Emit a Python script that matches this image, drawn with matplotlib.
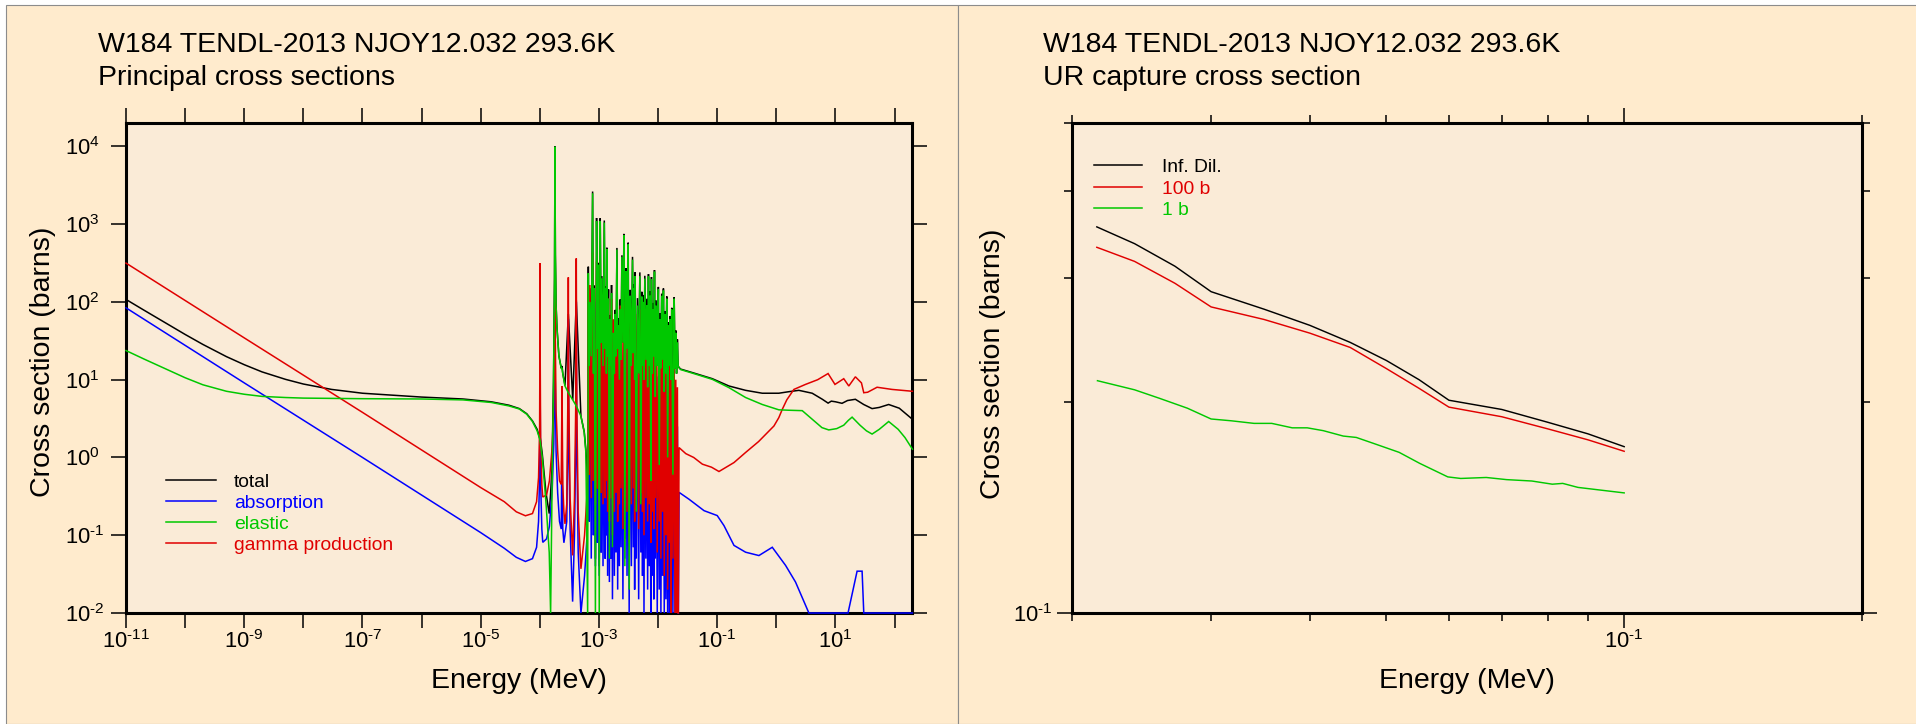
import numpy as np
import matplotlib
matplotlib.use("Agg")
import matplotlib.pyplot as plt
from matplotlib.patches import Rectangle
from matplotlib.lines import Line2D
from matplotlib.ticker import FixedLocator, FixedFormatter, NullFormatter

plt.rcParams['font.family'] = ['Liberation Sans', 'DejaVu Sans']
plt.rcParams['mathtext.fontset'] = 'custom'
plt.rcParams['mathtext.rm'] = 'Liberation Sans'
plt.rcParams['mathtext.it'] = 'Liberation Sans:italic'
plt.rcParams['mathtext.bf'] = 'Liberation Sans:bold'

# ------------------------------------------------------------------ text
TITLE = "W184 TENDL-2013 NJOY12.032 293.6K"
SUB_L = "Principal cross sections"
SUB_R = "UR capture cross section"
XLABEL = "Energy (MeV)"
YLABEL = "Cross section (barns)"
NAMES_L = ["total", "absorption", "elastic", "gamma production"]
NAMES_R = ["Inf. Dil.", "100 b", "1 b"]

# ------------------------------------------------------------------ left panel data
# smooth low-energy part + isolated resonances (E in MeV, sigma in barns)
TOT_E = [1e-11, 2e-11, 5e-11, 1e-10, 2e-10, 5e-10, 1e-9, 2e-9, 5e-9, 1e-8,
         3e-8, 1e-7, 1e-6, 5e-6,
         1.5e-5, 3e-5, 4.5e-5, 6e-5, 7.5e-5, 9e-5, 1.0e-4, 1.007e-4, 1.014e-4, 1.1e-4,
         1.27e-4, 1.44e-4, 1.52e-4, 1.6e-4, 1.7e-4, 1.77e-4, 1.80e-4, 1.83e-4, 1.88e-4, 1.95e-4,
         2.1e-4, 2.3e-4, 2.37e-4, 2.44e-4, 2.66e-4, 3.03e-4, 3.6e-4, 4.13e-4, 4.95e-4, 5.63e-4,
         6.0e-4, 6.43e-4, 6.55e-4, 6.6e-4, 6.7e-4]
TOT_V = [107.7, 78.6, 52.1, 38.2, 28.4, 19.8, 15.6, 12.6, 10.1, 8.8,
         7.5, 6.7, 5.98, 5.65,
         5.2, 4.7, 4.25, 3.65, 2.95, 2.3, 1.75, 100, 1.8, 1.1,
         0.35, 0.19, 0.35, 0.7, 9.5, 210, 10000, 410, 91, 46,
         20.2, 14.1, 15, 12.1, 8.4, 70, 5.5, 105, 3.4, 2.14,
         1.26, 0.5, 10.5, 284, 20.4]

ISO_E = [1e-11, 1e-9, 1e-7, 1e-5, 2.5e-5, 4e-5, 5.7e-5, 7.5e-5, 8.8e-5, 9.5e-5,
         9.9e-5, 1.0e-4, 1.007e-4, 1.014e-4, 1.03e-4, 1.08e-4, 1.12e-4, 1.3e-4, 1.45e-4, 1.62e-4,
         1.72e-4, 1.78e-4, 1.80e-4, 1.82e-4, 1.88e-4, 2.0e-4, 2.15e-4, 2.3e-4, 2.37e-4, 2.44e-4,
         2.55e-4, 2.66e-4, 2.85e-4, 2.97e-4, 3.03e-4, 3.09e-4, 3.25e-4, 3.58e-4, 3.85e-4, 4.05e-4,
         4.13e-4, 4.21e-4, 4.45e-4, 4.95e-4, 5.7e-4, 6.3e-4, 6.5e-4, 6.6e-4, 6.7e-4]
ABS_V = [84, 9.1, 1.0, 0.108, 0.068, 0.052, 0.046, 0.05, 0.07, 0.15,
         0.6, 5, 98, 5, 0.5, 0.12, 0.081, 0.09, 0.13, 0.4,
         1.5, 10, 450, 10, 1.2, 0.35, 0.15, 0.12, 2.5, 0.12,
         0.08, 0.1, 0.15, 1.5, 60, 1.5, 0.12, 0.014, 0.1, 1.5,
         100, 1.5, 0.06, 0.008, 0.03, 0.1, 0.5, 50, 0.4]
GAM_V = [316, 34.5, 3.8, 0.41, 0.27, 0.2, 0.178, 0.19, 0.27, 0.55,
         2.2, 18, 316, 18, 1.8, 0.45, 0.31, 0.33, 0.5, 1.4,
         5, 40, 2000, 40, 4, 1.2, 0.5, 0.45, 8.3, 0.45,
         0.2, 0.14, 0.25, 5, 207, 5, 0.3, 0.055, 0.3, 5,
         363, 5, 0.2, 0.037, 0.1, 0.35, 1.5, 165, 1.0]

EL_E = [1e-11, 2e-11, 5e-11, 1e-10, 2e-10, 5e-10, 1e-9, 2e-9, 5e-9, 1e-8,
        1e-7, 1e-6, 5e-6, 1.5e-5,
        3e-5, 4.5e-5, 6e-5, 7.5e-5, 9e-5, 1.0e-4, 1.1e-4, 1.27e-4, 1.44e-4, 1.52e-4,
        1.6e-4, 1.7e-4, 1.77e-4, 1.80e-4, 1.83e-4, 1.88e-4, 1.95e-4, 2.1e-4, 2.3e-4, 2.37e-4,
        2.44e-4, 2.66e-4, 3.03e-4, 3.6e-4, 4.13e-4, 4.95e-4, 5.63e-4, 6.0e-4, 6.43e-4, 6.55e-4,
        6.6e-4, 6.7e-4]
EL_V = [23.7, 18.5, 13.5, 10.6, 8.6, 7.1, 6.5, 6.1, 5.9, 5.8,
        5.7, 5.65, 5.5, 5.1,
        4.6, 4.2, 3.6, 2.9, 2.2, 1.7, 1.0, 0.26, 0.06, 0.004,
        0.3, 8, 200, 9900, 400, 90, 45, 20, 14, 14,
        12, 8.3, 6.8, 5.5, 4.6, 3.4, 2.1, 1.16, 0.004, 10,
        234, 20]

# resolved-resonance forest: resonance energies and the valleys around them
FR_E = [7.03e-4, 7.80e-4, 8.32e-4, 9.10e-4, 9.72e-4, 1.05e-3, 1.12e-3, 1.23e-3, 1.31e-3, 1.36e-3,
        1.45e-3, 1.55e-3, 1.63e-3, 1.76e-3, 1.88e-3, 2.01e-3, 2.14e-3, 2.29e-3, 2.44e-3, 2.64e-3,
        2.85e-3, 3.12e-3, 3.37e-3, 3.69e-3, 3.94e-3, 4.09e-3, 4.48e-3, 4.91e-3, 5.31e-3, 5.59e-3,
        5.96e-3, 6.44e-3, 6.87e-3, 7.33e-3, 7.72e-3, 8.24e-3, 8.68e-3, 9.26e-3, 1.01e-2, 1.08e-2,
        1.15e-2, 1.23e-2, 1.31e-2, 1.40e-2, 1.50e-2, 1.60e-2, 1.70e-2, 1.87e-2, 1.99e-2, 2.12e-2]
FV_E = [6.85e-4, 7.4e-4, 8.05e-4, 8.7e-4, 9.4e-4, 1.01e-3, 1.085e-3, 1.17e-3, 1.27e-3, 1.335e-3,
        1.40e-3, 1.50e-3, 1.59e-3, 1.69e-3, 1.82e-3, 1.94e-3, 2.07e-3, 2.21e-3, 2.36e-3, 2.54e-3,
        2.74e-3, 2.98e-3, 3.24e-3, 3.53e-3, 3.81e-3, 4.01e-3, 4.28e-3, 4.69e-3, 5.1e-3, 5.45e-3,
        5.77e-3, 6.2e-3, 6.65e-3, 7.1e-3, 7.52e-3, 7.98e-3, 8.46e-3, 8.97e-3, 9.67e-3, 1.045e-2,
        1.115e-2, 1.19e-2, 1.27e-2, 1.355e-2, 1.45e-2, 1.55e-2, 1.65e-2, 1.78e-2, 1.93e-2, 2.05e-2,
        2.18e-2]
EL_PK = [100, 2500, 150, 1100, 300, 1100, 200, 1050, 150, 480,
         110, 60, 130, 40, 70, 470, 50, 80, 380, 720,
         250, 550, 120, 350, 150, 215, 90, 215, 117, 100,
         200, 90, 213, 120, 195, 80, 245, 90, 145, 60,
         120, 140, 70, 110, 50, 60, 80, 110, 40, 30]
EL_VL = [15, 20, 12, 0.005, 25, 0.005, 30, 15, 25, 12,
         20, 0.05, 15, 0.07, 12, 20, 25, 10, 18, 30,
         0.04, 25, 0.02, 15, 22, 10, 0.2, 12, 0.25, 15,
         10, 18, 8, 15, 0.5, 12, 20, 6, 15, 0.8,
         14, 18, 7, 12, 1.0, 15, 10, 0.6, 14, 12, 15]
GA_PK = [165, 430, 40, 330, 60, 310, 50, 210, 30, 60,
         110, 25, 110, 60, 30, 80, 40, 90, 60, 100,
         70, 90, 75, 95, 60, 85, 70, 80, 60, 75,
         55, 65, 50, 60, 45, 55, 40, 50, 35, 40,
         25, 30, 20, 25, 15, 18, 12, 15, 10, 8]
GA_VL = [0.6, 0.3, 0.5, 0.25, 0.4, 0.2, 0.35, 0.25, 0.3, 0.5,
         0.2, 0.15, 0.3, 0.1, 0.2, 0.35, 0.15, 0.25, 0.4, 0.12,
         0.3, 0.2, 0.08, 0.25, 0.4, 0.15, 0.3, 0.12, 0.35, 0.2,
         0.1, 0.3, 0.15, 0.25, 0.08, 0.2, 0.12, 0.3, 0.06, 0.15,
         0.05, 0.2, 0.03, 0.1, 0.02, 0.08, 0.01, 0.05, 0.01, 0.01, 0.005]
AB_PK = [50, 130, 12, 100, 18, 95, 15, 65, 9, 18,
         35, 8, 35, 18, 9, 25, 12, 28, 18, 30,
         22, 28, 23, 30, 18, 26, 22, 25, 18, 23,
         17, 20, 15, 18, 14, 17, 12, 15, 11, 12,
         8, 9, 6, 8, 5, 6, 4, 5, 3, 2.5]
AB_VL = [0.15, 0.05, 0.1, 0.04, 0.08, 0.03, 0.06, 0.04, 0.05, 0.1,
         0.03, 0.025, 0.05, 0.015, 0.03, 0.06, 0.02, 0.04, 0.07, 0.015,
         0.05, 0.03, 0.01, 0.04, 0.07, 0.02, 0.05, 0.015, 0.06, 0.03,
         0.01, 0.05, 0.02, 0.04, 0.008, 0.03, 0.015, 0.05, 0.006, 0.02,
         0.005, 0.03, 0.004, 0.015, 0.003, 0.01, 0.002, 0.006, 0.002, 0.002, 0.002]
TOT_PK = [150, 2630, 162, 1200, 318, 1195, 215, 1115, 159, 498,
          145, 68, 165, 58, 79, 495, 62, 108, 398, 750,
          272, 578, 143, 380, 168, 241, 112, 240, 135, 123,
          217, 110, 228, 138, 209, 97, 257, 105, 156, 72,
          128, 149, 76, 118, 55, 66, 84, 115, 43, 33]
TOT_VL = [15.2, 20, 12, 0.05, 25, 0.04, 30, 15, 25, 12,
          20, 0.08, 15, 0.09, 12, 20, 25, 10, 18, 30,
          0.09, 25, 0.03, 15, 22, 10, 0.25, 12, 0.3, 15,
          10, 18, 8, 15, 0.5, 12, 20, 6, 15, 0.8,
          14, 18, 7, 12, 1.0, 15, 10, 0.6, 14, 12, 15]

# smooth part above the resolved range
TOT_HI_E = [2.26e-2, 2.4e-2, 4e-2, 8.27e-2, 0.158, 0.302, 0.578, 1.1, 1.6, 2.4,
            4.04, 6.0, 7.5, 8.5, 10, 12.9, 16, 21.7, 30, 41.6, 55, 79.4, 120, 200]
TOT_HI_V = [14.4, 13.7, 12.2, 10.3, 8.3, 7.3, 6.7, 6.7, 7.0, 7.3,
            6.7, 5.6, 5.0, 5.3, 5.2, 4.97, 5.4, 5.6, 4.8, 4.25, 4.4, 4.8, 4.3, 3.1]
EL_HI_E = [2.26e-2, 2.4e-2, 4e-2, 8.27e-2, 0.158, 0.302, 0.578, 1.1, 1.62, 2.74,
           4.04, 5.9, 7.7, 10.5, 13.8, 16.5, 19.1, 26, 33.4, 41.6, 55, 79.4, 115, 150, 200]
EL_HI_V = [14.2, 13.5, 12, 10.1, 7.9, 5.9, 4.8, 4.1, 4.05, 4.0,
           3.1, 2.42, 2.26, 2.35, 2.6, 3.0, 3.3, 2.6, 2.2, 2.0, 2.3, 2.9, 2.3, 1.8, 1.28]
GAM_HI_E = [2.2e-2, 2.26e-2, 2.94e-2, 4e-2, 5.61e-2, 8e-2, 0.107, 0.192, 0.302, 0.5,
            0.91, 1.1, 1.26, 1.5, 1.98, 3.11, 5, 7.5, 9.8, 13.8,
            16.8, 21.7, 27.5, 30.1, 35, 50.5, 90.4, 200]
GAM_HI_V = [0.005, 1.34, 1.12, 1.0, 0.82, 0.75, 0.66, 0.86, 1.16, 1.6,
            2.54, 3.25, 4.16, 5.5, 7.5, 8.7, 10, 12.0, 8.7, 10.3,
            8.3, 10.9, 9.1, 6.8, 6.9, 8.0, 7.5, 7.1]
ABS_HI_E = [2.2e-2, 2.26e-2, 3.34e-2, 5.98e-2, 0.1, 0.13, 0.192, 0.302, 0.507, 0.853,
            1.43, 2.11, 3.55, 16.3, 23.2, 28.2, 30.1, 200]
ABS_HI_V = [0.005, 0.356, 0.29, 0.207, 0.179, 0.133, 0.074, 0.0605, 0.0548, 0.070,
            0.041, 0.025, 0.005, 0.005, 0.0345, 0.0345, 0.005, 0.005]

# ------------------------------------------------------------------ right panel data
UR_E = [0.0215, 0.024, 0.027, 0.03, 0.035, 0.04, 0.045, 0.05, 0.055, 0.06, 0.07, 0.08, 0.09, 0.1]
UR_INF = [0.355, 0.336, 0.312, 0.287, 0.271, 0.257, 0.243, 0.229, 0.215, 0.201, 0.195, 0.187, 0.180, 0.1726]
UR_100 = [0.332, 0.317, 0.295, 0.273, 0.262, 0.2505, 0.239, 0.223, 0.209, 0.1965, 0.1904, 0.183, 0.1765, 0.170]
UR1_E = [0.02154, 0.0240, 0.0258, 0.0280, 0.0300, 0.0318, 0.0340, 0.0358, 0.0380, 0.0397,
         0.0416, 0.0441, 0.0458, 0.0482, 0.0519, 0.0551, 0.0598, 0.0621, 0.0669, 0.0710,
         0.0764, 0.0811, 0.0836, 0.0874, 0.1]
UR_1 = [0.2143, 0.208, 0.2023, 0.1958, 0.189, 0.1879, 0.1863, 0.1863, 0.1836, 0.1836,
        0.1819, 0.1787, 0.1779, 0.1744, 0.1694, 0.1634, 0.1563, 0.1555, 0.1560, 0.1549,
        0.1542, 0.1526, 0.153, 0.151, 0.1483]

# ------------------------------------------------------------------ ticks
XTICKS_L = [1e-11, 1e-10, 1e-9, 1e-8, 1e-7, 1e-6, 1e-5, 1e-4, 1e-3, 1e-2, 1e-1, 1e0, 1e1, 1e2]
XTICKLABELS_L = [r'$\mathdefault{10^{\text{-}11}}$', '', r'$\mathdefault{10^{\text{-}9}}$', '',
                 r'$\mathdefault{10^{\text{-}7}}$', '', r'$\mathdefault{10^{\text{-}5}}$', '',
                 r'$\mathdefault{10^{\text{-}3}}$', '', r'$\mathdefault{10^{\text{-}1}}$', '',
                 r'$\mathdefault{10^{1}}$', '']
YTICKS_L = [1e-2, 1e-1, 1e0, 1e1, 1e2, 1e3, 1e4]
YTICKLABELS_L = [r'$\mathdefault{10^{\text{-}2}}$', r'$\mathdefault{10^{\text{-}1}}$',
                 r'$\mathdefault{10^{0}}$', r'$\mathdefault{10^{1}}$', r'$\mathdefault{10^{2}}$',
                 r'$\mathdefault{10^{3}}$', r'$\mathdefault{10^{4}}$']
XTICKS_R = [0.1]
XTICKLABELS_R = [r'$\mathdefault{10^{\text{-}1}}$']
XMINOR_R = [0.02, 0.03, 0.04, 0.05, 0.06, 0.07, 0.08, 0.09, 0.2]
YTICKS_R = [0.1]
YTICKLABELS_R = [r'$\mathdefault{10^{\text{-}1}}$']
YMINOR_R = [0.2, 0.3, 0.4, 0.5]

# ------------------------------------------------------------------ style
W, H = 1916, 724
PANEL_BG = '#ffebcd'
AX_BG = '#faebd7'
C_BLACK, C_BLUE, C_GREEN, C_RED = '#000000', '#0000ff', '#00c800', '#e00000'
LW = 1.1
FS_TITLE = 20.5
FS_TICK = 15.8
FS_LEG = 13.9


def fx(px):
    return px / W


def fy(py):
    return 1 - py / H


def interleave(valleys, peaks):
    out = []
    for v, p in zip(valleys[:-1], peaks):
        out.extend([v, p])
    out.append(valleys[-1])
    return out


fig = plt.figure(figsize=(W / 100, H / 100), dpi=100, facecolor='white')
fig.patches.append(Rectangle((fx(6), 0), fx(958) - fx(6), fy(5), transform=fig.transFigure,
                             facecolor=PANEL_BG, edgecolor='#8c8c8c', lw=0.8, zorder=-5))
fig.patches.append(Rectangle((fx(958), 0), 1 - fx(958) + 0.01, fy(5), transform=fig.transFigure,
                             facecolor=PANEL_BG, edgecolor='#8c8c8c', lw=0.8, zorder=-5))

L_BOX = (126, 912.4, 123, 613)
R_BOX = (1072, 1862, 122.5, 613)


def make_axes(box):
    x0, x1, y0, y1 = box
    return fig.add_axes([fx(x0), fy(y1), fx(x1) - fx(x0), (y1 - y0) / H])


def style(ax, ypad):
    ax.set_facecolor(AX_BG)
    for s in ax.spines.values():
        s.set_linewidth(2.2)
        s.set_zorder(2.5)
    ax.tick_params(which='major', direction='out', length=10.8, width=1.1,
                   top=True, right=True, labelsize=FS_TICK)
    ax.tick_params(which='minor', direction='out', length=5.5, width=1.1,
                   top=True, right=True)
    ax.tick_params(axis='x', which='major', pad=1.5)
    ax.tick_params(axis='y', which='major', pad=ypad)


# ------------------------------------------------------------------ left panel
ax1 = make_axes(L_BOX)
ax1.set_xscale('log')
ax1.set_yscale('log')
YMIN_L = 1e-2
ax1.set_xlim(1e-11, 2e2)
ax1.set_ylim(YMIN_L, 2e4)

FE = interleave(FV_E, FR_E)
curves = [
    (TOT_E + FE + TOT_HI_E, TOT_V + interleave(TOT_VL, TOT_PK) + TOT_HI_V, C_BLACK, 3),
    (ISO_E + FE + ABS_HI_E, ABS_V + interleave(AB_VL, AB_PK) + ABS_HI_V, C_BLUE, 4),
    (ISO_E + FE + GAM_HI_E, GAM_V + interleave(GA_VL, GA_PK) + GAM_HI_V, C_RED, 5),
    (EL_E + FE + EL_HI_E, EL_V + interleave(EL_VL, EL_PK) + EL_HI_V, C_GREEN, 6),
]
for e, v, c, z in curves:
    ax1.plot(e, np.maximum(np.array(v, float), YMIN_L), color=c, lw=LW, zorder=z,
             clip_on=False, solid_joinstyle='miter')

ax1.xaxis.set_major_locator(FixedLocator(XTICKS_L))
ax1.xaxis.set_major_formatter(FixedFormatter(XTICKLABELS_L))
ax1.xaxis.set_minor_locator(FixedLocator([]))
ax1.yaxis.set_major_locator(FixedLocator(YTICKS_L))
ax1.yaxis.set_major_formatter(FixedFormatter(YTICKLABELS_L))
ax1.yaxis.set_minor_locator(FixedLocator([]))
style(ax1, 33.0)
plt.setp(ax1.get_yticklabels(), ha='left')

ax1.set_xlabel(XLABEL, fontsize=FS_TITLE, va='baseline')
ax1.xaxis.set_label_coords(0.5, (L_BOX[3] - 688) / (L_BOX[3] - L_BOX[2]))
ax1.set_ylabel(YLABEL, fontsize=FS_TITLE, va='center')
ax1.yaxis.set_label_coords((43 - L_BOX[0]) / (L_BOX[1] - L_BOX[0]), (L_BOX[3] - 362) / (L_BOX[3] - L_BOX[2]))

# ------------------------------------------------------------------ right panel
ax2 = make_axes(R_BOX)
ax2.set_xscale('log')
ax2.set_yscale('log')
ax2.set_xlim(0.02, 0.2)
ax2.set_ylim(0.1, 0.5)
ax2.plot(UR_E, UR_INF, color=C_BLACK, lw=LW * 0.95, zorder=3)
ax2.plot(UR_E, UR_100, color=C_RED, lw=LW * 0.95, zorder=4)
ax2.plot(UR1_E, UR_1, color=C_GREEN, lw=LW * 0.95, zorder=5)

ax2.xaxis.set_major_locator(FixedLocator(XTICKS_R))
ax2.xaxis.set_major_formatter(FixedFormatter(XTICKLABELS_R))
ax2.xaxis.set_minor_locator(FixedLocator(XMINOR_R))
ax2.xaxis.set_minor_formatter(NullFormatter())
ax2.yaxis.set_major_locator(FixedLocator(YTICKS_R))
ax2.yaxis.set_major_formatter(FixedFormatter(YTICKLABELS_R))
ax2.yaxis.set_minor_locator(FixedLocator(YMINOR_R))
ax2.yaxis.set_minor_formatter(NullFormatter())
style(ax2, 31.7)
plt.setp(ax2.get_yticklabels(), ha='left')

ax2.set_xlabel(XLABEL, fontsize=FS_TITLE, va='baseline')
ax2.xaxis.set_label_coords(0.5, (R_BOX[3] - 688) / (R_BOX[3] - R_BOX[2]))
ax2.set_ylabel(YLABEL, fontsize=FS_TITLE, va='center')
ax2.yaxis.set_label_coords((993 - R_BOX[0]) / (R_BOX[1] - R_BOX[0]), (R_BOX[3] - 364) / (R_BOX[3] - R_BOX[2]))

# ------------------------------------------------------------------ titles
fig.text(fx(98), fy(51.7), TITLE, fontsize=FS_TITLE, va='baseline')
fig.text(fx(98), fy(85), SUB_L, fontsize=FS_TITLE, va='baseline')
fig.text(fx(1043), fy(51.7), TITLE, fontsize=FS_TITLE, va='baseline')
fig.text(fx(1043), fy(85), SUB_R, fontsize=FS_TITLE, va='baseline')


# ------------------------------------------------------------------ legends
def legend(rows, colors, names, x0, x1, xt):
    for y, c, n in zip(rows, colors, names):
        fig.add_artist(Line2D([fx(x0), fx(x1)], [fy(y), fy(y)], color=c, lw=LW,
                              transform=fig.transFigure))
        fig.text(fx(xt), fy(y + 7), n, color=c, fontsize=FS_LEG, va='baseline', ha='left')


legend([480, 501, 521.7, 542.7], [C_BLACK, C_BLUE, C_GREEN, C_RED], NAMES_L, 166, 216, 234)
legend([165, 186.7, 208.3], [C_BLACK, C_RED, C_GREEN], NAMES_R, 1093.5, 1141.5, 1161.5)

fig.savefig('out.png', dpi=100, facecolor=fig.get_facecolor())
